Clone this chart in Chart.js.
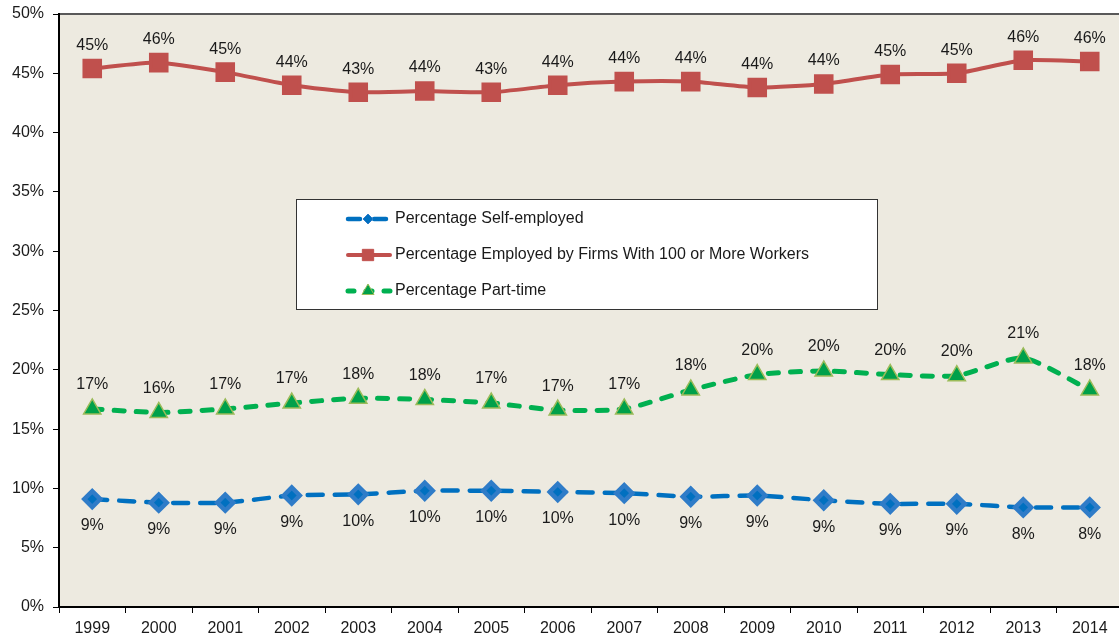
<!DOCTYPE html>
<html>
<head>
<meta charset="utf-8">
<script src="https://cdn.jsdelivr.net/npm/chart.js@4/dist/chart.umd.min.js"></script>
<style>
  html, body { margin: 0; padding: 0; background: #fff; overflow: hidden; }
  #wrap { width: 1123px; height: 637px; position: relative; }
</style>
</head>
<body>
<div id="wrap"><canvas id="grafik"></canvas></div>
<script>
// data
const tahun = ["1999","2000","2001","2002","2003","2004","2005","2006","2007","2008","2009","2010","2011","2012","2013","2014"];
const selfEmployed = [9.1, 8.8, 8.8, 9.4, 9.5, 9.8, 9.8, 9.7, 9.6, 9.3, 9.4, 9.0, 8.7, 8.7, 8.4, 8.4];
const firma100 = [45.4, 45.9, 45.1, 44.0, 43.4, 43.5, 43.4, 44.0, 44.3, 44.3, 43.8, 44.1, 44.9, 45.0, 46.1, 46.0];
const partTime = [16.7, 16.4, 16.7, 17.2, 17.6, 17.5, 17.2, 16.6, 16.7, 18.3, 19.6, 19.9, 19.6, 19.5, 21.0, 18.3];
const yTicks = [0, 5, 10, 15, 20, 25, 30, 35, 40, 45, 50];

const FONT = "'Liberation Sans', Arial, sans-serif";
const BIRU = "#0070C0";
const MERAH = "#C0504D";
const HIJAU = "#00B050";

// latar area plot + garis atas
const latarPlot = {
    id: "latarPlot",
    beforeDraw(chart) {
        const { ctx, chartArea: a } = chart;
        ctx.save();
        ctx.fillStyle = "#EDEAE0";
        ctx.fillRect(a.left, a.top, a.right - a.left, a.bottom - a.top);
        ctx.strokeStyle = "#595959";
        ctx.lineWidth = 2;
        ctx.beginPath();
        ctx.moveTo(a.left, a.top);
        ctx.lineTo(a.right, a.top);
        ctx.stroke();
        ctx.restore();
    },
};

function gambarMarker(ctx, jenis, x, y, r, fill, stroke) {
    ctx.save();
    ctx.setLineDash([]);
    ctx.fillStyle = fill;
    ctx.strokeStyle = stroke;
    ctx.lineWidth = 1;
    ctx.beginPath();
    if (jenis === "rect") {
        const s = r * Math.SQRT1_2;
        ctx.rect(x - s, y - s, 2 * s, 2 * s);
    } else if (jenis === "rectRot") {
        ctx.moveTo(x, y - r);
        ctx.lineTo(x + r, y);
        ctx.lineTo(x, y + r);
        ctx.lineTo(x - r, y);
        ctx.closePath();
    } else {
        const h = r * 1.5;
        const w = r * Math.sqrt(3);
        ctx.moveTo(x, y - r);
        ctx.lineTo(x + w / 2, y - r + h);
        ctx.lineTo(x - w / 2, y - r + h);
        ctx.closePath();
    }
    ctx.fill();
    ctx.stroke();
    ctx.restore();
}

// label nilai di tiap titik
const labelNilai = {
    id: "labelNilai",
    afterDatasetsDraw(chart) {
        const { ctx } = chart;
        ctx.save();
        ctx.font = "16px " + FONT;
        ctx.fillStyle = "#1a1a1a";
        ctx.textAlign = "center";
        ctx.textBaseline = "middle";
        chart.data.datasets.forEach((ds, i) => {
            const meta = chart.getDatasetMeta(i);
            meta.data.forEach((pt, j) => {
                ctx.fillText(Math.round(ds.data[j]) + "%", pt.x, pt.y + ds.labelOffset);
            });
        });
        ctx.restore();
    },
};

// legenda kotak di tengah grafik
const legendaKotak = {
    id: "legendaKotak",
    afterDraw(chart) {
        const { ctx } = chart;
        const bx = 296, by = 199, bw = 581, bh = 110;
        ctx.save();
        ctx.fillStyle = "#fff";
        ctx.fillRect(bx, by, bw, bh);
        ctx.strokeStyle = "#333";
        ctx.lineWidth = 1;
        ctx.strokeRect(bx + 0.5, by + 0.5, bw, bh);

        const baris = [219, 255, 291];
        chart.data.datasets.forEach((ds, i) => {
            const y = baris[i];
            ctx.save();
            ctx.strokeStyle = ds.borderColor;
            ctx.lineWidth = ds.borderWidth;
            ctx.lineCap = "round";
            ctx.setLineDash(ds.legendDash || []);
            ctx.beginPath();
            ctx.moveTo(348, y);
            ctx.lineTo(390, y);
            ctx.stroke();
            ctx.restore();
            gambarMarker(ctx, ds.pointStyle, 368, y, ds.legendRadius, ds.pointBackgroundColor, ds.pointBorderColor);
            ctx.font = "16px " + FONT;
            ctx.fillStyle = "#1a1a1a";
            ctx.textAlign = "left";
            ctx.textBaseline = "middle";
            ctx.fillText(ds.label, 395, y);
        });
        ctx.restore();
    },
};

const ctx = document.getElementById("grafik").getContext("2d");

new Chart(ctx, {
    type: "line",
    data: {
        labels: tahun,
        datasets: [
            {
                label: "Percentage Self-employed",
                data: selfEmployed,
                borderColor: BIRU,
                borderWidth: 4.5,
                borderDash: [15, 12],
                legendDash: [12, 14],
                borderCapStyle: "round",
                pointStyle: "rectRot",
                pointRadius: 8,
                pointHoverRadius: 8,
                pointBackgroundColor: BIRU,
                pointBorderColor: "#2F7CC8",
                tension: 0.2,
                labelOffset: 27,
                legendRadius: 5,
            },
            {
                label: "Percentage Employed by Firms With 100 or More Workers",
                data: firma100,
                borderColor: MERAH,
                borderWidth: 4,
                pointStyle: "rect",
                pointRadius: 11,
                pointHoverRadius: 11,
                pointBackgroundColor: MERAH,
                pointBorderColor: MERAH,
                tension: 0.2,
                labelOffset: -23,
                legendRadius: 8,
            },
            {
                label: "Percentage Part-time",
                data: partTime,
                borderColor: HIJAU,
                borderWidth: 5,
                borderDash: [10, 12],
                legendDash: [6, 12],
                borderCapStyle: "round",
                pointStyle: "triangle",
                pointRadius: 10,
                pointHoverRadius: 10,
                pointBackgroundColor: "#00A04A",
                pointBorderColor: "#9BBB59",
                pointBorderWidth: 1.5,
                tension: 0.2,
                labelOffset: -24,
                legendRadius: 7,
            },
        ],
    },
    options: {
        responsive: true,
        maintainAspectRatio: false,
        animation: false,
        layout: { autoPadding: false, padding: { top: 14, right: 0, left: 0, bottom: 0 } },
        plugins: {
            legend: { display: false },
            tooltip: { enabled: false },
        },
        scales: {
            x: {
                offset: true,
                grid: {
                    offset: true,
                    drawOnChartArea: false,
                    drawTicks: true,
                    tickLength: 6,
                    color: "#000",
                },
                border: { color: "#000", width: 2 },
                ticks: {
                    color: "#1a1a1a",
                    font: { family: FONT, size: 16 },
                    padding: 6,
                    maxRotation: 0,
                    autoSkip: false,
                },
                afterFit: (s) => { s.height = 30; s.paddingLeft = 0; s.paddingRight = 0; },
            },
            y: {
                min: 0,
                max: 50,
                afterBuildTicks: (s) => { s.ticks = yTicks.map((v) => ({ value: v })); },
                grid: {
                    drawOnChartArea: false,
                    drawTicks: true,
                    tickLength: 6,
                    color: "#000",
                },
                border: { color: "#000", width: 2 },
                ticks: {
                    color: "#1a1a1a",
                    font: { family: FONT, size: 16 },
                    padding: 9,
                    callback: (v) => v + "%",
                },
                afterFit: (s) => { s.width = 59; s.paddingTop = 0; s.paddingBottom = 0; },
            },
        },
    },
    plugins: [latarPlot, labelNilai, legendaKotak],
});
</script>
</body>
</html>
